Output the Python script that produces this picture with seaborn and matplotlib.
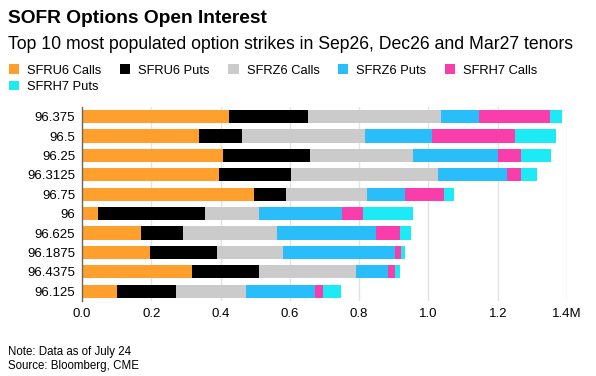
import pandas as pd
import numpy as np
import matplotlib
matplotlib.use("Agg")
import matplotlib.pyplot as plt
import seaborn as sns
from matplotlib.patches import Patch

# open interest by strike, in millions of contracts
strikes = ["96.375", "96.5", "96.25", "96.3125", "96.75",
           "96", "96.625", "96.1875", "96.4375", "96.125"]
sfru6_calls = [0.423, 0.337, 0.406, 0.395, 0.495, 0.047, 0.169, 0.196, 0.317, 0.100]
sfru6_puts = [0.229, 0.126, 0.251, 0.207, 0.094, 0.307, 0.122, 0.195, 0.194, 0.170]
sfrz6_calls = [0.385, 0.354, 0.297, 0.425, 0.234, 0.157, 0.271, 0.190, 0.280, 0.204]
sfrz6_puts = [0.110, 0.193, 0.246, 0.200, 0.108, 0.240, 0.288, 0.321, 0.092, 0.199]
sfrh7_calls = [0.205, 0.239, 0.066, 0.041, 0.114, 0.061, 0.069, 0.019, 0.019, 0.023]
sfrh7_puts = [0.033, 0.119, 0.088, 0.044, 0.029, 0.144, 0.031, 0.012, 0.017, 0.052]

series = ["SFRU6 Calls", "SFRU6 Puts", "SFRZ6 Calls", "SFRZ6 Puts", "SFRH7 Calls", "SFRH7 Puts"]
colors = ["#FFA02E", "#000000", "#CBCBCB", "#29BDFA", "#F93DAB", "#1CEAF5"]

df = pd.DataFrame({
    "strike": strikes,
    "SFRU6 Calls": sfru6_calls,
    "SFRU6 Puts": sfru6_puts,
    "SFRZ6 Calls": sfrz6_calls,
    "SFRZ6 Puts": sfrz6_puts,
    "SFRH7 Calls": sfrh7_calls,
    "SFRH7 Puts": sfrh7_puts,
})
cum = df[series].cumsum(axis=1)
cum["strike"] = df["strike"]

sns.set_theme(style="white")
plt.rcParams["font.family"] = ["Liberation Sans", "DejaVu Sans"]
plt.rcParams["text.color"] = "black"

fig = plt.figure(figsize=(5.96, 3.76), dpi=100)
ax = fig.add_axes([0.1376, 0.1995, 0.8138, 0.516])

# stacked bars: draw cumulative totals from the outermost segment inwards
for name, col in reversed(list(zip(series, colors))):
    sns.barplot(data=cum, x=name, y="strike", order=strikes, color=col,
                width=0.68, saturation=1, ax=ax, edgecolor="none", linewidth=0)

ax.set_xlim(0, 1.4)
ax.set_ylim(9.5, -0.5)
ax.set_xticks(np.arange(0, 1.41, 0.2))
ax.set_xticklabels(["0.0", "0.2", "0.4", "0.6", "0.8", "1.0", "1.2", "1.4M"])
ax.set_xlabel("")
ax.set_ylabel("")
ax.tick_params(axis="both", length=0, labelsize=9.5, colors="#000000")
ax.tick_params(axis="x", pad=5)
ax.tick_params(axis="y", pad=5)
ax.set_axisbelow(True)
ax.xaxis.grid(True, color="#E2E2E2", linewidth=1)
ax.yaxis.grid(False)
for s in ["top", "right", "bottom"]:
    ax.spines[s].set_visible(False)
ax.spines["left"].set_color("#666666")
ax.spines["left"].set_linewidth(1)
ax.spines["left"].set_zorder(5)

fig.text(0.013, 0.952, "SOFR Options Open Interest", fontsize=13.8, fontweight="bold",
         ha="left", va="center", color="black")
fig.text(0.013, 0.882, "Top 10 most populated option strikes in Sep26, Dec26 and Mar27 tenors",
         fontsize=12.7, ha="left", va="center", color="black")

handles = [Patch(facecolor=c, edgecolor="none") for c in colors]
order = [0, 5, 1, 2, 3, 4]
fig.legend([handles[i] for i in order], [series[i] for i in order],
           loc="upper left", bbox_to_anchor=(0.0, 0.853), ncol=5, frameon=False,
           fontsize=9.3, handlelength=0.8, handleheight=0.8, handletextpad=0.6,
           columnspacing=1.45, labelspacing=0.3, borderaxespad=0.3)

fig.text(0.013, 0.063, "Note: Data as of July 24", fontsize=8.3, ha="left", va="center")
fig.text(0.013, 0.027, "Source: Bloomberg, CME", fontsize=8.3, ha="left", va="center")

fig.savefig("out.png", dpi=100)
